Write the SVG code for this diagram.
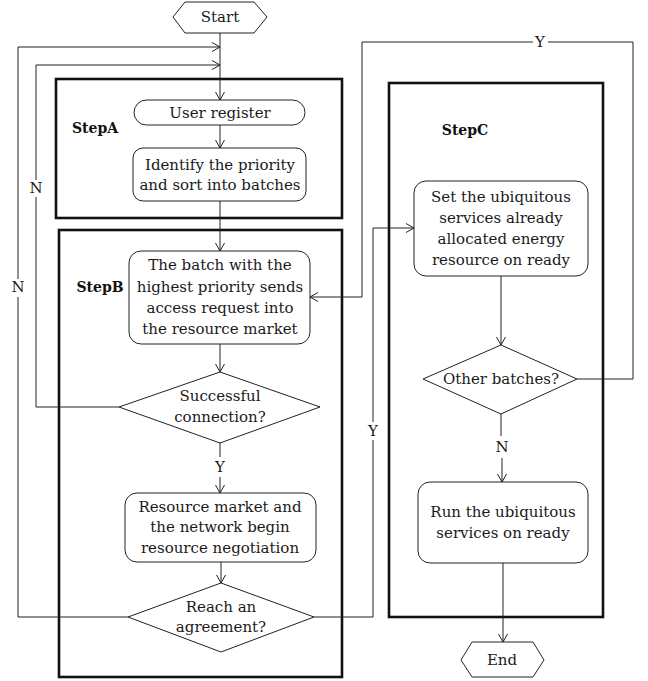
<svg xmlns="http://www.w3.org/2000/svg" width="648" height="681" viewBox="0 0 648 681">
<defs>
<style>
.t{font-family:"DejaVu Serif","Liberation Serif",serif;font-size:15px;fill:#1a1a1a;text-anchor:middle}
.b{font-family:"DejaVu Serif","Liberation Serif",serif;font-size:14px;font-weight:bold;fill:#111;text-anchor:middle}
.n{fill:#fff;stroke:#222;stroke-width:1}
.step{fill:none;stroke:#111;stroke-width:2.6}
.c{fill:none;stroke:#222;stroke-width:1}
</style>
<marker id="ah" markerWidth="10" markerHeight="10" refX="8" refY="5" orient="auto" markerUnits="userSpaceOnUse">
<path d="M0,0.5 L8,5 L0,9.5" fill="none" stroke="#222" stroke-width="1"/>
</marker>
</defs>
<rect width="648" height="681" fill="#fff"/>

<g id="stepA"><rect class="step" x="56" y="79" width="286" height="139"/><text class="b" x="95" y="133">StepA</text></g>
<g id="stepB"><rect class="step" x="59" y="230" width="283" height="447"/><text class="b" x="100" y="292">StepB</text></g>
<g id="stepC"><rect class="step" x="389" y="83" width="214" height="534"/><text class="b" x="465" y="135">StepC</text></g>

<g id="connectors">
<path class="c" d="M220,33 V100" marker-end="url(#ah)"/>
<path class="c" d="M128,617 H18 V297 M18,279 V47 H220" marker-end="url(#ah)"/>
<path class="c" d="M119,407 H36 V197 M36,180 V65 H220" marker-end="url(#ah)"/>
<path class="c" d="M220,125 V148" marker-end="url(#ah)"/>
<path class="c" d="M220,201 V251" marker-end="url(#ah)"/>
<path class="c" d="M220,344 V372" marker-end="url(#ah)"/>
<path class="c" d="M220,443 V457 M220,477 V493" marker-end="url(#ah)"/>
<path class="c" d="M221,562 V583" marker-end="url(#ah)"/>
<path class="c" d="M314,617 H373 V440 M373,422 V228 H414" marker-end="url(#ah)"/>
<path class="c" d="M501,276 V345" marker-end="url(#ah)"/>
<path class="c" d="M577,379 H633 V42 H548 M533,42 H362 V297 H310" marker-end="url(#ah)"/>
<path class="c" d="M501,414 V436 M502,458 V482" marker-end="url(#ah)"/>
<path class="c" d="M503,563 V642" marker-end="url(#ah)"/>
<text class="t" x="18" y="292">N</text>
<text class="t" x="36" y="193">N</text>
<text class="t" x="220" y="472">Y</text>
<text class="t" x="373" y="436">Y</text>
<text class="t" x="540" y="47">Y</text>
<text class="t" x="502" y="452">N</text>
</g>

<g id="start"><polygon class="n" points="173,17 185,2 254,2 267,17 254,33 185,33"/><text class="t" x="220" y="22">Start</text></g>
<g id="userRegister"><rect class="n" x="134" y="100" width="171" height="25" rx="12.5"/><text class="t" x="220" y="117.5">User register</text></g>
<g id="identify"><rect class="n" x="133" y="148" width="173" height="53" rx="10"/><text class="t" x="220" y="170">Identify the priority</text><text class="t" x="220" y="190">and sort into batches</text></g>
<g id="batch"><rect class="n" x="129" y="251" width="181" height="93" rx="12"/><text class="t" x="220" y="270">The batch with the</text><text class="t" x="220" y="292">highest priority sends</text><text class="t" x="220" y="313">access request into</text><text class="t" x="220" y="334">the resource market</text></g>
<g id="successful"><polygon class="n" points="220,372 320,407 220,443 119,407"/><text class="t" x="220" y="401">Successful</text><text class="t" x="220" y="422">connection?</text></g>
<g id="negotiation"><rect class="n" x="125" y="493" width="191" height="69" rx="12"/><text class="t" x="220" y="512">Resource market and</text><text class="t" x="220" y="532">the network begin</text><text class="t" x="220" y="553">resource negotiation</text></g>
<g id="agreement"><polygon class="n" points="221,583 314,617 221,652 128,617"/><text class="t" x="221" y="612">Reach an</text><text class="t" x="221" y="632">agreement?</text></g>
<g id="setReady"><rect class="n" x="414" y="181" width="174" height="95" rx="12"/><text class="t" x="501" y="202">Set the ubiquitous</text><text class="t" x="501" y="223">services already</text><text class="t" x="501" y="244">allocated energy</text><text class="t" x="501" y="265">resource on ready</text></g>
<g id="otherBatches"><polygon class="n" points="501,345 577,379 501,414 423,379"/><text class="t" x="501" y="384">Other batches?</text></g>
<g id="run"><rect class="n" x="418" y="482" width="170" height="81" rx="12"/><text class="t" x="503" y="517">Run the ubiquitous</text><text class="t" x="503" y="538">services on ready</text></g>
<g id="end"><polygon class="n" points="461,660 472,642 533,642 544,660 533,677 472,677"/><text class="t" x="502" y="665">End</text></g>
</svg>
